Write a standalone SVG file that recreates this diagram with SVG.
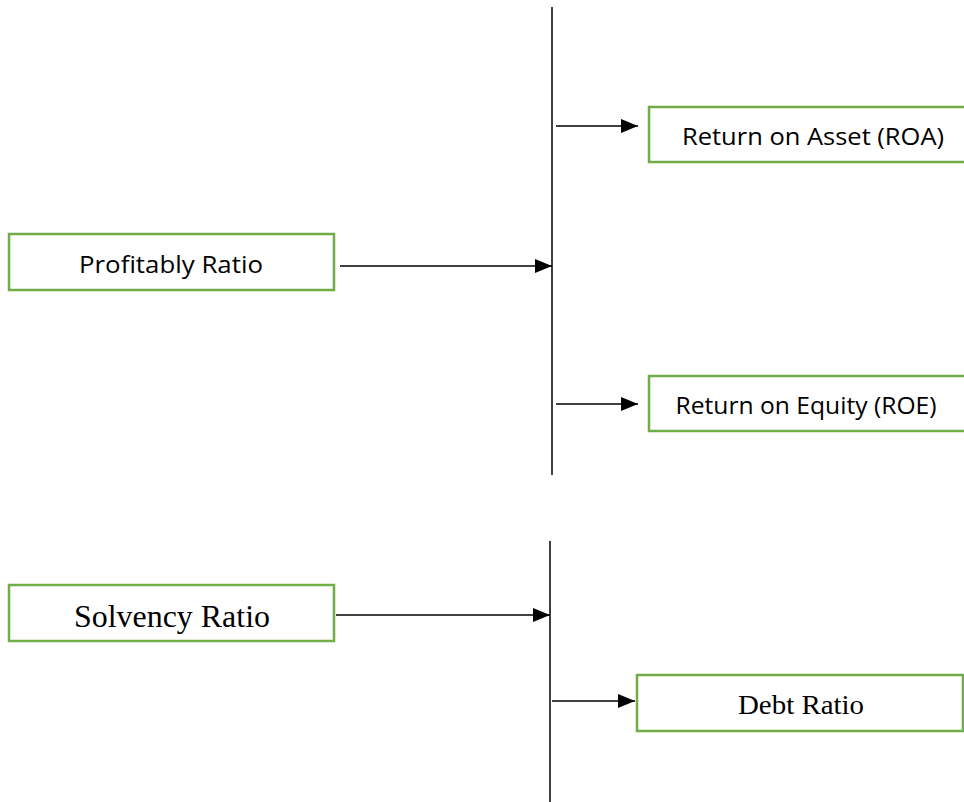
<svg xmlns="http://www.w3.org/2000/svg" width="964" height="802" viewBox="0 0 964 802">
<style>
.box{fill:#fff;stroke:#70AD47;stroke-width:2.5}
.sans{font-family:"Open Sans","Liberation Sans",sans-serif;font-size:24px;fill:#000}
.serif{font-family:"Liberation Serif","Times New Roman",serif;fill:#000}
.bar{stroke:#404040;stroke-width:2;fill:none}
.arr{stroke:#000;stroke-width:1.3;fill:none;marker-end:url(#ah)}
</style>
<defs>
<marker id="ah" markerWidth="17" markerHeight="14" refX="17" refY="7" orient="auto" markerUnits="userSpaceOnUse">
<path d="M0,0 L17,7 L0,14 Z" fill="#000"/>
</marker>
</defs>
<g id="connectors">
<line class="bar" x1="552" y1="7" x2="552" y2="475"/>
<line class="bar" x1="550" y1="541" x2="550" y2="802"/>
<line class="arr" x1="340" y1="266" x2="552" y2="266"/>
<line class="arr" x1="556" y1="126" x2="638" y2="126"/>
<line class="arr" x1="556" y1="404" x2="638" y2="404"/>
<line class="arr" x1="336" y1="615" x2="550" y2="615"/>
<line class="arr" x1="552" y1="701" x2="635" y2="701"/>
</g>
<g id="profitably">
<rect class="box" x="9" y="234" width="325" height="56"/>
<text class="sans" x="171" y="273" text-anchor="middle" textLength="184" lengthAdjust="spacingAndGlyphs">Profitably Ratio</text>
</g>
<g id="roa">
<rect class="box" x="649" y="107" width="330" height="55"/>
<text class="sans" x="813" y="145" text-anchor="middle" textLength="262" lengthAdjust="spacingAndGlyphs">Return on Asset (ROA)</text>
</g>
<g id="roe">
<rect class="box" x="649" y="376" width="330" height="55"/>
<text class="sans" x="806" y="414" text-anchor="middle" textLength="261" lengthAdjust="spacingAndGlyphs">Return on Equity (ROE)</text>
</g>
<g id="solvency">
<rect class="box" x="9" y="585" width="325" height="56"/>
<text class="serif" x="172" y="627" font-size="31" text-anchor="middle" textLength="196" lengthAdjust="spacingAndGlyphs">Solvency Ratio</text>
</g>
<g id="debt">
<rect class="box" x="637" y="675" width="326" height="56"/>
<text class="serif" x="801" y="714" font-size="28" text-anchor="middle" textLength="126" lengthAdjust="spacingAndGlyphs">Debt Ratio</text>
</g>
</svg>
